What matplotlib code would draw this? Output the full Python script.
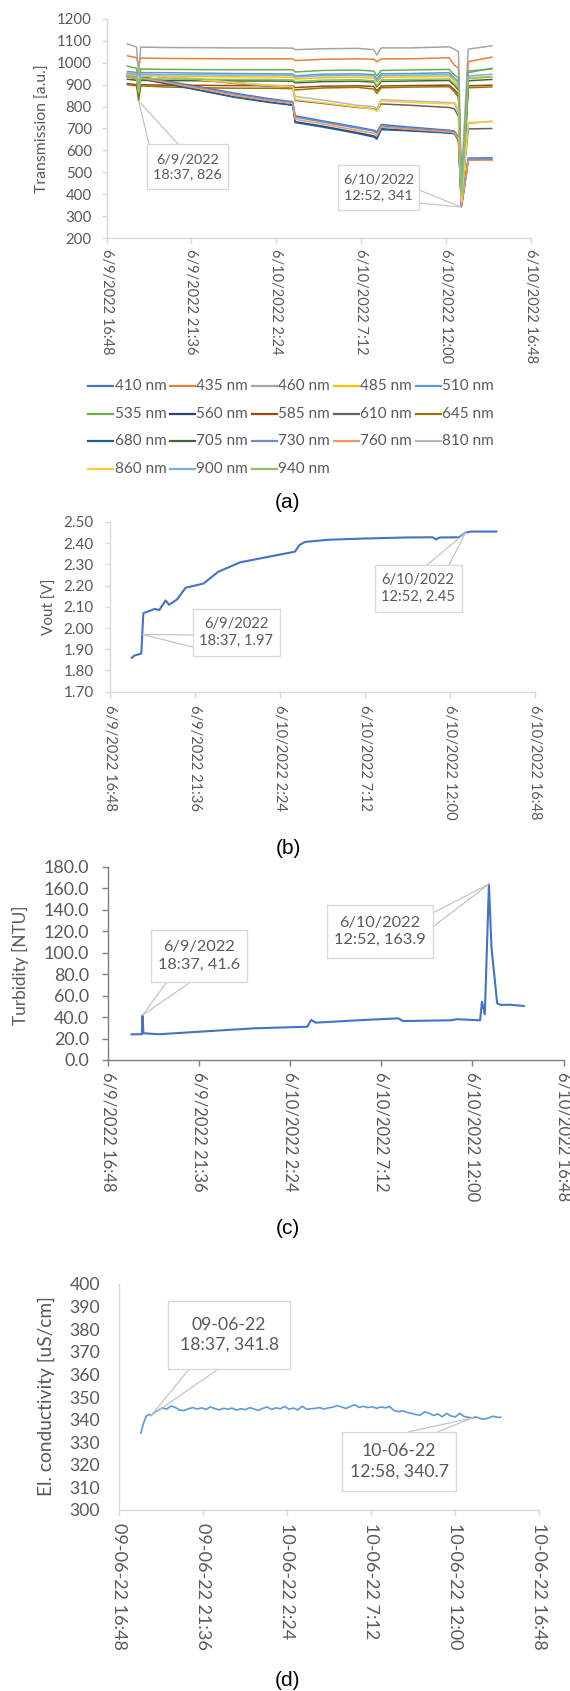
import datetime as dt
import matplotlib
matplotlib.use("Agg")
import matplotlib.pyplot as plt
import matplotlib.dates as mdates
from matplotlib.lines import Line2D
from matplotlib.patches import Rectangle

W, H = 570, 1691

# ---------------- data ----------------
tick_times = ["06-09 16:48", "06-09 21:36", "06-10 02:24", "06-10 07:12", "06-10 12:00", "06-10 16:48"]

# (a) transmission
times_a = ["06-09 17:59", "06-09 18:30", "06-09 18:37", "06-09 18:44", "06-09 20:00", "06-09 22:00",
           "06-10 00:00", "06-10 02:00", "06-10 03:20", "06-10 03:28", "06-10 05:00", "06-10 07:00",
           "06-10 07:55", "06-10 08:05", "06-10 08:20", "06-10 10:00", "06-10 12:10", "06-10 12:28",
           "06-10 12:42", "06-10 12:52", "06-10 13:05", "06-10 13:15", "06-10 14:35"]
wavelengths = ["410 nm", "435 nm", "460 nm", "485 nm", "510 nm", "535 nm", "560 nm", "585 nm", "610 nm",
               "645 nm", "680 nm", "705 nm", "730 nm", "760 nm", "810 nm", "860 nm", "900 nm", "940 nm"]
colors_a = ["#4472C4", "#ED7D31", "#A5A5A5", "#FFC000", "#5B9BD5", "#70AD47", "#264478", "#9E480E", "#636363",
            "#997300", "#255E91", "#43682B", "#698ED0", "#F1975A", "#B7B7B7", "#FFCD33", "#7CAFDD", "#8CC168"]
t410 = [946, 938, 870, 937, 920, 891, 862, 836, 822, 758, 735, 706, 692, 684, 718, 706, 692, 688, 662, 352, 470, 565, 566]
t435 = [1032, 1023, 990, 1022, 1020, 1019, 1018, 1018, 1018, 1010, 1016, 1018, 1016, 1005, 1018, 1018, 1023, 990, 975, 420, 760, 1005, 1026]
t460 = [1086, 1072, 940, 1072, 1070, 1069, 1068, 1068, 1067, 1060, 1064, 1066, 1060, 1035, 1068, 1068, 1073, 1062, 1050, 450, 800, 1062, 1078]
t485 = [945, 940, 870, 940, 938, 937, 936, 935, 934, 926, 932, 934, 930, 912, 934, 935, 938, 918, 895, 390, 680, 932, 938]
t510 = [960, 956, 880, 955, 955, 953, 951, 950, 949, 940, 948, 950, 946, 925, 950, 951, 955, 930, 915, 400, 700, 955, 975]
t535 = [985, 975, 885, 972, 970, 969, 968, 968, 968, 958, 965, 967, 962, 940, 965, 967, 970, 945, 930, 410, 720, 962, 972]
t560 = [938, 930, 862, 928, 909, 877, 845, 821, 808, 731, 711, 681, 666, 656, 699, 691, 681, 678, 647, 345, 460, 558, 557]
t585 = [905, 900, 852, 900, 898, 897, 896, 896, 895, 887, 893, 895, 892, 872, 894, 896, 898, 878, 855, 380, 640, 895, 898]
t610 = [950, 945, 872, 944, 935, 922, 906, 893, 888, 828, 815, 796, 790, 782, 812, 806, 796, 790, 756, 360, 560, 698, 700]
t645 = [900, 895, 826, 895, 890, 886, 884, 884, 882, 876, 885, 888, 880, 860, 886, 889, 891, 868, 842, 375, 630, 886, 890]
t680 = [936, 928, 860, 926, 907, 875, 843, 819, 806, 727, 707, 677, 661, 651, 695, 689, 679, 676, 645, 343, 458, 556, 555]
t705 = [925, 920, 858, 920, 919, 918, 917, 917, 916, 908, 914, 916, 912, 890, 915, 917, 919, 898, 875, 385, 660, 918, 924]
t730 = [943, 935, 868, 934, 917, 888, 858, 832, 818, 752, 730, 701, 688, 678, 712, 701, 688, 684, 656, 348, 465, 562, 562]
t760 = [940, 932, 866, 930, 913, 883, 851, 827, 814, 742, 721, 691, 678, 667, 706, 696, 684, 680, 650, 341, 458, 556, 555]
t810 = [956, 949, 876, 947, 939, 926, 911, 898, 893, 846, 830, 806, 800, 792, 832, 826, 818, 815, 772, 366, 580, 722, 734]
t860 = [948, 943, 874, 942, 936, 923, 908, 896, 890, 832, 818, 798, 788, 778, 826, 819, 812, 820, 792, 370, 575, 728, 730]
t900 = [952, 948, 878, 948, 946, 945, 944, 944, 943, 935, 941, 943, 940, 918, 942, 944, 946, 928, 910, 405, 690, 940, 948]
t940 = [935, 928, 862, 928, 926, 925, 924, 924, 922, 914, 921, 923, 918, 895, 922, 924, 926, 905, 885, 395, 670, 928, 935]

# (b) Vout
times_b = ["06-09 18:02", "06-09 18:10", "06-09 18:34", "06-09 18:37", "06-09 18:41", "06-09 19:00",
           "06-09 19:19", "06-09 19:35", "06-09 19:56", "06-09 20:08", "06-09 20:35", "06-09 21:04",
           "06-09 22:05", "06-09 22:54", "06-10 00:09", "06-10 01:48", "06-10 03:14", "06-10 03:30",
           "06-10 03:48", "06-10 05:04", "06-10 07:07", "06-10 09:30", "06-10 11:00", "06-10 11:12",
           "06-10 11:24", "06-10 12:30", "06-10 12:52", "06-10 13:10", "06-10 14:36"]
vout = [1.86, 1.87, 1.88, 1.97, 2.07, 2.08, 2.09, 2.085, 2.13, 2.11, 2.135, 2.19, 2.21, 2.265, 2.31,
        2.337, 2.36, 2.392, 2.406, 2.416, 2.422, 2.427, 2.428, 2.418, 2.427, 2.428, 2.45, 2.455, 2.455]

# (c) turbidity
times_c = ["06-09 18:02", "06-09 18:35", "06-09 18:37", "06-09 18:40", "06-09 19:30", "06-09 21:39",
           "06-10 00:30", "06-10 03:18", "06-10 03:30", "06-10 03:45", "06-10 06:18", "06-10 08:06",
           "06-10 08:20", "06-10 10:52", "06-10 11:10", "06-10 12:24", "06-10 12:30", "06-10 12:39",
           "06-10 12:52", "06-10 13:00", "06-10 13:18", "06-10 13:30", "06-10 14:00", "06-10 14:42"]
turb = [23.9, 24.0, 41.6, 24.9, 24.0, 26.4, 29.5, 31.0, 37.3, 34.8, 37.3, 38.8,
        36.3, 37.0, 38.0, 37.0, 54.3, 42.6, 163.9, 105.0, 52.8, 51.3, 51.5, 50.3]

# (d) conductivity
times_d = ["06-09 18:02", "06-09 18:10", "06-09 18:20", "06-09 18:30", "06-09 18:37", "06-09 18:45",
           "06-09 19:00", "06-09 19:15", "06-09 19:30", "06-09 19:45", "06-09 20:00", "06-09 20:15",
           "06-09 20:30", "06-09 20:45", "06-09 21:00", "06-09 21:15", "06-09 21:30", "06-09 21:45",
           "06-09 22:00", "06-09 22:15", "06-09 22:30", "06-09 22:45", "06-09 23:00", "06-09 23:15",
           "06-09 23:30", "06-09 23:45", "06-10 00:00", "06-10 00:15", "06-10 00:30", "06-10 00:45",
           "06-10 01:00", "06-10 01:15", "06-10 01:30", "06-10 01:45", "06-10 02:00", "06-10 02:15",
           "06-10 02:30", "06-10 02:45", "06-10 03:00", "06-10 03:15", "06-10 03:30", "06-10 03:45",
           "06-10 04:00", "06-10 04:15", "06-10 04:30", "06-10 04:45", "06-10 05:00", "06-10 05:15",
           "06-10 05:30", "06-10 05:45", "06-10 06:00", "06-10 06:15", "06-10 06:30", "06-10 06:45",
           "06-10 07:00", "06-10 07:15", "06-10 07:30", "06-10 07:45", "06-10 08:00", "06-10 08:15",
           "06-10 08:30", "06-10 08:45", "06-10 09:00", "06-10 09:15", "06-10 09:30", "06-10 09:45",
           "06-10 10:00", "06-10 10:15", "06-10 10:30", "06-10 10:45", "06-10 11:00", "06-10 11:15",
           "06-10 11:30", "06-10 11:45", "06-10 12:00", "06-10 12:15", "06-10 12:30", "06-10 12:45",
           "06-10 12:58", "06-10 13:10", "06-10 13:25", "06-10 13:40", "06-10 13:55", "06-10 14:10",
           "06-10 14:25", "06-10 14:36"]
cond = [334.0, 338.0, 341.5, 342.3, 341.8, 343.0, 344.0, 345.2, 344.6, 346.0, 345.4, 344.2,
        344.0, 344.8, 345.3, 344.7, 345.2, 344.5, 345.6, 344.9, 344.3, 345.0, 344.6, 345.1,
        344.2, 344.8, 344.4, 345.3, 344.7, 344.1, 345.0, 345.6, 344.5, 345.2, 344.8, 345.8,
        344.6, 345.1, 344.3, 345.9, 344.6, 344.8, 345.0, 345.3, 344.7, 345.2, 345.5, 346.2,
        345.6, 344.9, 345.8, 346.6, 345.4, 345.9, 345.3, 345.7, 345.0, 345.6, 345.2, 345.8,
        344.0, 343.5, 343.9, 343.2, 342.8, 342.2, 342.0, 343.4, 342.9, 341.8, 342.5, 341.3,
        342.7, 341.6, 341.2, 342.8, 341.4, 341.0, 340.7, 341.2, 340.5, 340.2, 340.8, 341.5,
        341.0, 341.0]

# ---------------- helpers ----------------
plt.rcParams['font.family'] = ['Lato', 'DejaVu Sans']
TXT = '#595959'


def parse(s):
    return dt.datetime.strptime("2022-" + s, "%Y-%m-%d %H:%M")


def fmt_us(d):
    return f"{d.month}/{d.day}/{d.year} {d.hour}:{d.minute:02d}"


def fmt_eu(d):
    return f"{d.day:02d}-{d.month:02d}-{d.year % 100:02d} {d.hour}:{d.minute:02d}"


fig = plt.figure(figsize=(W / 100, H / 100), dpi=100)
fig.patch.set_facecolor('white')
_rend = fig.canvas.get_renderer()


def fit(text, target_px, family=None):
    """font size (pt) that makes `text` about target_px wide"""
    kw = {'family': family} if family else {}
    t = fig.text(0, 0, text, fontsize=10, **kw)
    w = t.get_window_extent(_rend).width
    t.remove()
    return 10.0 * target_px / w


def fxy(px, py):
    return (px / W, 1 - py / H)


def add_ax(left, top, right, bottom):
    return fig.add_axes([left / W, 1 - bottom / H, (right - left) / W, (bottom - top) / H])


def style(ax, ylim, yticks, yfmt, xfmt, yfs, xfs, axcol, ytick_len, ypad, xpad):
    ticks = [parse(t) for t in tick_times]
    ax.set_xlim(ticks[0], ticks[-1])
    ax.set_xticks(ticks)
    ax.set_xticklabels([xfmt(t) for t in ticks], rotation=-90, ha='center', va='top')
    ax.set_ylim(*ylim)
    ax.set_yticks(yticks)
    ax.set_yticklabels([yfmt(v) for v in yticks])
    for s in ['top', 'right']:
        ax.spines[s].set_visible(False)
    for s in ['left', 'bottom']:
        ax.spines[s].set_color(axcol)
        ax.spines[s].set_linewidth(1.0)
    ax.tick_params(axis='y', length=ytick_len, width=1.0, color=axcol, labelsize=yfs, labelcolor=TXT, pad=ypad)
    ax.tick_params(axis='x', length=4, width=1.0, color=axcol, labelsize=xfs, labelcolor=TXT, pad=xpad)
    ax.set_facecolor('none')


def callout(ax, x, y, text, box, wedge, fs):
    p = fig.transFigure.inverted().transform(ax.transData.transform((mdates.date2num(parse(x)), y)))
    for wx, wy in wedge:
        fx, fy = fxy(wx, wy)
        fig.add_artist(Line2D([p[0], fx], [p[1], fy], transform=fig.transFigure,
                              color='#BFBFBF', lw=0.8, zorder=5))
    x0, y0, x1, y1 = box
    bx, by = fxy(x0, y1)
    fig.add_artist(Rectangle((bx, by), (x1 - x0) / W, (y1 - y0) / H, transform=fig.transFigure,
                             facecolor='white', edgecolor='#D9D9D9', lw=1.0, zorder=6))
    cx, cy = fxy((x0 + x1) / 2, (y0 + y1) / 2)
    fig.text(cx, cy, text, ha='center', va='center', fontsize=fs, color=TXT, zorder=7, linespacing=1.3)


def ylab(px, py, text, fs):
    fig.text(*fxy(px, py), text, rotation=90, ha='center', va='center', fontsize=fs, color=TXT)


fs_cap = fit("(a)", 25.7, 'Liberation Sans')


def caption(py, text):
    fig.text(*fxy(288, py), text, ha='center', va='center', fontsize=fs_cap,
             family='Liberation Sans', color='black')


# ---------------- (a) ----------------
ax = add_ax(106.5, 19, 531, 238)
series_a = [t410, t435, t460, t485, t510, t535, t560, t585, t610, t645, t680, t705, t730, t760, t810, t860, t900, t940]
xa = [parse(t) for t in times_a]
handles = []
for vals, c, lab in zip(series_a, colors_a, wavelengths):
    h, = ax.plot(xa, vals, color=c, lw=1.1, label=lab)
    handles.append(h)
style(ax, (200, 1200), list(range(200, 1201, 100)), lambda v: f"{v}", fmt_us,
      fit("1200", 35), fit("6/9/2022 16:48", 106), '#D9D9D9', 3.5, 7, 4)
ylab(43, 128.5, "Transmission [a.u.]", fit("Transmission [a.u.]", 127.7))

# legend laid out as in the original: 5 columns, row-major order
fs_leg = fit("410 nm", 51.7)
for i, (h, lab) in enumerate(zip(handles, wavelengths)):
    r, c = divmod(i, 5)
    lx, ly = 88 + 82 * c, 385.7 + 27.8 * r
    (x0, y0), (x1, _) = fxy(lx, ly), fxy(lx + 25, ly)
    fig.add_artist(Line2D([x0, x1], [y0, y0], transform=fig.transFigure, color=h.get_color(), lw=1.6))
    fig.text(*fxy(lx + 26.5, ly), lab, ha='left', va='center', fontsize=fs_leg, color=TXT)

fs_a = fit("6/9/2022", 63.3)
callout(ax, "06-09 18:37", 826, "6/9/2022\n18:37, 826", (147, 144, 228, 189), [(149, 144), (178, 144)], fs_a)
callout(ax, "06-10 12:52", 341, "6/10/2022\n12:52, 341", (338, 165, 419, 210), [(419, 190), (419, 203)], fs_a)
caption(502, "(a)")

# ---------------- (b) ----------------
ax = add_ax(110, 522, 535.3, 691.7)
ax.plot([parse(t) for t in times_b], vout, color='#4472C4', lw=1.5)
style(ax, (1.70, 2.50), [1.70 + 0.1 * i for i in range(9)], lambda v: f"{v:.2f}", fmt_us,
      fit("2.30", 30), fit("6/9/2022 16:48", 106.7), '#D9D9D9', 3.5, 8, 5.5)
ylab(50, 607, "Vout [V]", fit("Vout [V]", 56.7))
fs_b = fit("6/10/2022", 73.5)
callout(ax, "06-09 18:37", 1.97, "6/9/2022\n18:37, 1.97", (192.7, 609.3, 280, 655.7), [(192.7, 635), (192.7, 647)], fs_b)
callout(ax, "06-10 12:52", 2.45, "6/10/2022\n12:52, 2.45", (374.5, 565, 461.8, 611.7), [(427, 565), (449, 565)], fs_b)
caption(848, "(b)")

# ---------------- (c) ----------------
ax = add_ax(108, 866.8, 563.6, 1060)
ax.plot([parse(t) for t in times_c], turb, color='#4472C4', lw=1.5)
style(ax, (0, 180), list(range(0, 181, 20)), lambda v: f"{v:.1f}", fmt_us,
      fit("80.0", 35), fit("6/9/2022 16:48", 120), '#7F7F7F', 4.5, 9, 5)
ylab(20, 965, "Turbidity [NTU]", fit("Turbidity [NTU]", 120))
fs_c = fit("6/10/2022", 81.8)
callout(ax, "06-09 18:37", 41.6, "6/9/2022\n18:37, 41.6", (151, 930, 247, 981.7), [(167, 981.7), (191, 981.7)], fs_c)
callout(ax, "06-10 12:52", 163.9, "6/10/2022\n12:52, 163.9", (327, 905, 432.7, 958.3), [(432.7, 913), (432.7, 927)], fs_c)
caption(1228, "(c)")

# ---------------- (d) ----------------
ax = add_ax(119.3, 1284, 539.3, 1510)
ax.plot([parse(t) for t in times_d], cond, color='#5B9BD5', lw=1.2)
style(ax, (300, 400), list(range(300, 401, 10)), lambda v: f"{v}", fmt_eu,
      fit("350", 30.7), fit("09-06-22 16:48", 126.7), '#D9D9D9', 0, 14, 5.5)
ylab(46.7, 1396, "El. conductivity [uS/cm]", fit("El. conductivity [uS/cm]", 200))
fs_d = fit("09-06-22", 74.5)
callout(ax, "06-09 18:37", 341.8, "09-06-22\n18:37, 341.8", (168.4, 1300.7, 289.8, 1369.3), [(189, 1369.3), (218, 1369.3)], fs_d)
callout(ax, "06-10 12:58", 340.7, "10-06-22\n12:58, 340.7", (341.8, 1431.7, 456.4, 1491), [(409, 1431.7), (438, 1431.7)], fs_d)
caption(1681, "(d)")

fig.savefig("out.png", dpi=100)
